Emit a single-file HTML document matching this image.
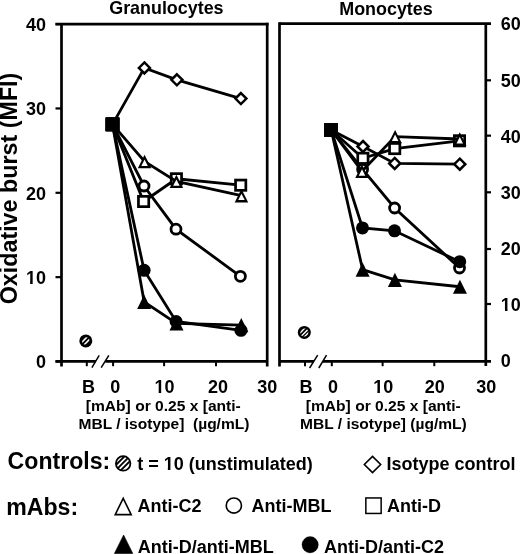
<!DOCTYPE html>
<html><head><meta charset="utf-8"><style>
html,body{margin:0;padding:0;background:#fff;}
svg{display:block;}
</style></head><body>
<svg width="520" height="554" viewBox="0 0 520 554">
<defs><clipPath id="n1c0"><path clip-rule="evenodd" d="M-10,-10H530V564H-10Z M26.30,282.00H30.14V284.60H26.30Z M32.67,282.00H36.28V284.60H32.67Z"/></clipPath><clipPath id="n1c1"><path clip-rule="evenodd" d="M-10,-10H530V564H-10Z M501.13,309.00H504.97V311.90H501.13Z M507.50,309.00H511.11V311.90H507.50Z"/></clipPath><clipPath id="n1c2"><path clip-rule="evenodd" d="M-10,-10H530V564H-10Z M154.82,391.00H158.66V393.30H154.82Z M161.19,391.00H164.79V393.30H161.19Z"/></clipPath><clipPath id="n1c3"><path clip-rule="evenodd" d="M-10,-10H530V564H-10Z M373.52,391.00H377.36V393.30H373.52Z M379.89,391.00H383.49V393.30H379.89Z"/></clipPath><clipPath id="n1c4"><path clip-rule="evenodd" d="M-10,-10H530V564H-10Z M164.03,468.00H167.87V470.90H164.03Z M170.40,468.00H174.01V470.90H170.40Z"/></clipPath></defs>
<rect width="520" height="554" fill="#fff"/>
<g stroke="#000" stroke-linecap="butt">
<line x1="61.5" y1="24.1" x2="61.5" y2="366.5" stroke-width="2.7"/>
<line x1="267.2" y1="22.75" x2="267.2" y2="366.5" stroke-width="2.7"/>
<line x1="55.5" y1="24.1" x2="268.55" y2="24.1" stroke-width="2.7"/>
<line x1="55.5" y1="361.3" x2="95.9" y2="361.3" stroke-width="2.7"/>
<line x1="105.3" y1="361.3" x2="267.2" y2="361.3" stroke-width="2.7"/>
<line x1="91.9" y1="367.7" x2="99.2" y2="355.4" stroke-width="1.5"/>
<line x1="101.2" y1="367.7" x2="108.8" y2="355.4" stroke-width="1.5"/>
<line x1="55.5" y1="361.5" x2="61.5" y2="361.5" stroke-width="2.2"/>
<line x1="55.5" y1="277.15" x2="61.5" y2="277.15" stroke-width="2.2"/>
<line x1="55.5" y1="192.8" x2="61.5" y2="192.8" stroke-width="2.2"/>
<line x1="55.5" y1="108.45" x2="61.5" y2="108.45" stroke-width="2.2"/>
<line x1="55.5" y1="24.1" x2="61.5" y2="24.1" stroke-width="2.2"/>
<line x1="86.8" y1="361.3" x2="86.8" y2="366.2" stroke-width="2.0"/>
<line x1="113.1" y1="361.3" x2="113.1" y2="366.2" stroke-width="2.0"/>
<line x1="164.1" y1="361.3" x2="164.1" y2="366.2" stroke-width="2.0"/>
<line x1="216" y1="361.3" x2="216" y2="366.2" stroke-width="2.0"/>
<line x1="279.5" y1="22.25" x2="279.5" y2="366.5" stroke-width="2.7"/>
<line x1="485.8" y1="23.6" x2="485.8" y2="366" stroke-width="2.7"/>
<line x1="279.5" y1="23.6" x2="491" y2="23.6" stroke-width="2.7"/>
<line x1="279.5" y1="361.3" x2="314" y2="361.3" stroke-width="2.7"/>
<line x1="323" y1="361.3" x2="491" y2="361.3" stroke-width="2.7"/>
<line x1="309.6" y1="368" x2="317.7" y2="355.2" stroke-width="1.5"/>
<line x1="318.8" y1="368" x2="326.5" y2="355.2" stroke-width="1.5"/>
<line x1="485.8" y1="304" x2="491" y2="304" stroke-width="2.2"/>
<line x1="485.8" y1="249" x2="491" y2="249" stroke-width="2.2"/>
<line x1="485.8" y1="192.3" x2="491" y2="192.3" stroke-width="2.2"/>
<line x1="485.8" y1="135.65" x2="491" y2="135.65" stroke-width="2.2"/>
<line x1="485.8" y1="80.3" x2="491" y2="80.3" stroke-width="2.2"/>
<line x1="305" y1="361.3" x2="305" y2="366.2" stroke-width="2.0"/>
<line x1="331.8" y1="361.3" x2="331.8" y2="366.2" stroke-width="2.0"/>
<line x1="382.6" y1="361.3" x2="382.6" y2="366.2" stroke-width="2.0"/>
<line x1="434.3" y1="361.3" x2="434.3" y2="366.2" stroke-width="2.0"/>
</g>
<g stroke="#000" stroke-linejoin="miter">
<polyline fill="none" stroke-width="2.8" points="112.5,124.4 144.4,67.9 176.9,79.8 240.9,98.6"/>
<rect stroke="none" fill="#000" x="105.75" y="117.65" width="13.5" height="13.5"/>
<polygon points="144.4,62.4 149.9,67.9 144.4,73.4 138.9,67.9" fill="#fff" stroke-width="2.5"/>
<polygon points="176.9,74.3 182.4,79.8 176.9,85.3 171.4,79.8" fill="#fff" stroke-width="2.5"/>
<polygon points="240.9,93.1 246.4,98.6 240.9,104.1 235.4,98.6" fill="#fff" stroke-width="2.5"/>
<polyline fill="none" stroke-width="2.8" points="112.5,124.4 144,186 176,229.2 240.4,276.3"/>
<rect stroke="none" fill="#000" x="105.75" y="117.65" width="13.5" height="13.5"/>
<circle cx="144" cy="186" r="5" fill="#fff" stroke-width="2.8"/>
<circle cx="176" cy="229.2" r="5" fill="#fff" stroke-width="2.8"/>
<circle cx="240.4" cy="276.3" r="5" fill="#fff" stroke-width="2.8"/>
<polyline fill="none" stroke-width="2.8" points="112.5,124.4 143.6,201.5 176.4,178.8 240.7,185.2"/>
<rect stroke="none" fill="#000" x="105.75" y="117.65" width="13.5" height="13.5"/>
<rect x="138.45" y="196.35" width="10.3" height="10.3" fill="#fff" stroke-width="2.7"/>
<rect x="171.25" y="173.65" width="10.3" height="10.3" fill="#fff" stroke-width="2.7"/>
<rect x="235.55" y="180.05" width="10.3" height="10.3" fill="#fff" stroke-width="2.7"/>
<polyline fill="none" stroke-width="2.8" points="112.5,124.4 144.55,161.5 176.4,181.4 241.45,195.7"/>
<rect stroke="none" fill="#000" x="105.75" y="117.65" width="13.5" height="13.5"/>
<polygon stroke="none" fill="#000" points="144.55,154.8 151.3,168.2 137.8,168.2"/>
<polygon stroke="none" fill="#fff" points="144.55,159.5 147.8,165.9 141.3,165.9"/>
<polygon stroke="none" fill="#000" points="176.4,174.7 183.15,188.1 169.65,188.1"/>
<polygon stroke="none" fill="#fff" points="176.4,179.4 179.65,185.8 173.15,185.8"/>
<polygon stroke="none" fill="#000" points="241.45,189 248.2,202.4 234.7,202.4"/>
<polygon stroke="none" fill="#fff" points="241.45,193.7 244.7,200.1 238.2,200.1"/>
<polyline fill="none" stroke-width="2.8" points="112.5,124.4 144.15,301.8 176.5,323.4 241.3,325.2"/>
<rect stroke="none" fill="#000" x="105.75" y="117.65" width="13.5" height="13.5"/>
<polygon stroke="none" fill="#000" points="144.15,294.7 151.15,308.9 137.15,308.9"/>
<polygon stroke="none" fill="#000" points="176.5,316.3 183.5,330.5 169.5,330.5"/>
<polygon stroke="none" fill="#000" points="241.3,318.1 248.3,332.3 234.3,332.3"/>
<polyline fill="none" stroke-width="2.8" points="112.5,124.4 144.1,270.3 176.1,321.5 241,330.3"/>
<rect stroke="none" fill="#000" x="105.75" y="117.65" width="13.5" height="13.5"/>
<circle stroke="none" fill="#000" cx="144.1" cy="270.3" r="6.5"/>
<circle stroke="none" fill="#000" cx="176.1" cy="321.5" r="6.5"/>
<circle stroke="none" fill="#000" cx="241" cy="330.3" r="6.5"/>
<rect stroke="none" fill="#000" x="105.75" y="117.65" width="13.5" height="13.5"/>
</g>
<g><circle cx="85.8" cy="340.9" r="6.5" fill="#000" stroke="none"/>
<clipPath id="h1"><circle cx="85.8" cy="340.9" r="3.7"/></clipPath>
<g clip-path="url(#h1)" stroke="#fff" stroke-width="1.6">
<line x1="76.46" y1="347.56" x2="92.46" y2="331.56"/>
<line x1="78.93" y1="350.03" x2="94.93" y2="334.03"/>
</g></g>
<g stroke="#000" stroke-linejoin="miter">
<polyline fill="none" stroke-width="2.8" points="331.25,130 363,146.5 394.7,163.4 459.8,164.2"/>
<rect stroke="none" fill="#000" x="324.5" y="123.25" width="13.5" height="13.5"/>
<polygon points="363,141 368.5,146.5 363,152 357.5,146.5" fill="#fff" stroke-width="2.5"/>
<polygon points="394.7,157.9 400.2,163.4 394.7,168.9 389.2,163.4" fill="#fff" stroke-width="2.5"/>
<polygon points="459.8,158.7 465.3,164.2 459.8,169.7 454.3,164.2" fill="#fff" stroke-width="2.5"/>
<polyline fill="none" stroke-width="2.8" points="331.25,130 362.6,169.3 394.6,208 459.5,268"/>
<rect stroke="none" fill="#000" x="324.5" y="123.25" width="13.5" height="13.5"/>
<circle cx="362.6" cy="169.3" r="5" fill="#fff" stroke-width="2.8"/>
<circle cx="394.6" cy="208" r="5" fill="#fff" stroke-width="2.8"/>
<circle cx="459.5" cy="268" r="5" fill="#fff" stroke-width="2.8"/>
<polyline fill="none" stroke-width="2.8" points="331.25,130 362.9,158.3 394.7,148.6 459.5,140.8"/>
<rect stroke="none" fill="#000" x="324.5" y="123.25" width="13.5" height="13.5"/>
<rect x="357.75" y="153.15" width="10.3" height="10.3" fill="#fff" stroke-width="2.7"/>
<rect x="389.55" y="143.45" width="10.3" height="10.3" fill="#fff" stroke-width="2.7"/>
<rect x="454.35" y="135.65" width="10.3" height="10.3" fill="#fff" stroke-width="2.7"/>
<polyline fill="none" stroke-width="2.8" points="331.25,130 362,171.3 395.1,136.6 459.75,139"/>
<rect stroke="none" fill="#000" x="324.5" y="123.25" width="13.5" height="13.5"/>
<polygon stroke="none" fill="#000" points="362,164.6 368.75,178 355.25,178"/>
<polygon stroke="none" fill="#fff" points="362,169.3 365.25,175.7 358.75,175.7"/>
<polygon stroke="none" fill="#000" points="395.1,129.9 401.85,143.3 388.35,143.3"/>
<polygon stroke="none" fill="#fff" points="395.1,134.6 398.35,141 391.85,141"/>
<polygon stroke="none" fill="#000" points="459.75,132.3 466.5,145.7 453,145.7"/>
<polygon stroke="none" fill="#fff" points="459.75,137 463,143.4 456.5,143.4"/>
<polyline fill="none" stroke-width="2.8" points="331.25,130 362.6,269.65 394.9,279.9 459.95,286.75"/>
<rect stroke="none" fill="#000" x="324.5" y="123.25" width="13.5" height="13.5"/>
<polygon stroke="none" fill="#000" points="362.6,262.55 369.6,276.75 355.6,276.75"/>
<polygon stroke="none" fill="#000" points="394.9,272.8 401.9,287 387.9,287"/>
<polygon stroke="none" fill="#000" points="459.95,279.65 466.95,293.85 452.95,293.85"/>
<polyline fill="none" stroke-width="2.8" points="331.25,130 362.5,227.9 394.5,230.8 459.7,261.7"/>
<rect stroke="none" fill="#000" x="324.5" y="123.25" width="13.5" height="13.5"/>
<circle stroke="none" fill="#000" cx="362.5" cy="227.9" r="6.5"/>
<circle stroke="none" fill="#000" cx="394.5" cy="230.8" r="6.5"/>
<circle stroke="none" fill="#000" cx="459.7" cy="261.7" r="6.5"/>
<rect stroke="none" fill="#000" x="324.5" y="123.25" width="13.5" height="13.5"/>
</g>
<g><circle cx="304.3" cy="332.4" r="6.5" fill="#000" stroke="none"/>
<clipPath id="h2"><circle cx="304.3" cy="332.4" r="4"/></clipPath>
<g clip-path="url(#h2)" stroke="#fff" stroke-width="1.4">
<line x1="294.43" y1="338.53" x2="310.43" y2="322.53"/>
<line x1="296.65" y1="340.75" x2="312.65" y2="324.75"/>
<line x1="298.56" y1="342.66" x2="314.56" y2="326.66"/>
</g></g>

<g font-family="'Liberation Sans', Arial, sans-serif" font-weight="bold" fill="#000">
<text x="166.4" y="14" font-size="17.9" text-anchor="middle">Granulocytes</text>
<text x="386" y="14.6" font-size="17.9" text-anchor="middle">Monocytes</text>
<text transform="translate(17.3,188.5) rotate(-90)" font-size="23.3" text-anchor="middle">Oxidative burst (MFI)</text>
<g font-size="18" text-anchor="end">
<text x="46" y="30.9">40</text>
<text x="46" y="115.2">30</text>
<text x="46" y="199.6">20</text>
<text clip-path="url(#n1c0)" x="46" y="283.9">10</text>
<text x="46" y="368.2">0</text>
</g>
<g font-size="18" text-anchor="start">
<text x="500.8" y="30.1">60</text>
<text x="500.8" y="87">50</text>
<text x="500.8" y="143">40</text>
<text x="500.8" y="199.1">30</text>
<text x="500.8" y="255.1">20</text>
<text clip-path="url(#n1c1)" x="500.8" y="311.2">10</text>
<text x="500.8" y="367.2">0</text>
</g>
<g font-size="18" text-anchor="middle">
<text x="88.4" y="392.6">B</text>
<text x="115.3" y="392.6">0</text>
<text clip-path="url(#n1c2)" x="164.5" y="392.6">10</text>
<text x="218.1" y="392.6">20</text>
<text x="267.2" y="392.6">30</text>
<text x="306" y="392.6">B</text>
<text x="333" y="392.6">0</text>
<text clip-path="url(#n1c3)" x="383.2" y="392.6">10</text>
<text x="434.8" y="392.6">20</text>
<text x="486.2" y="392.6">30</text>
</g>
<g font-size="14.5" text-anchor="middle">
<text transform="translate(163.3,410.6) scale(1.076,1)">[mAb] or 0.25 x [anti-</text>
<text font-size="15.1" transform="translate(163.95,429.0) scale(1.03,1)" xml:space="preserve">MBL / isotype]  (µg/mL)</text>
<text transform="translate(383.3,410.6) scale(1.076,1)">[mAb] or 0.25 x [anti-</text>
<text font-size="15.1" transform="translate(383.4,429.0) scale(1.03,1)">MBL / isotype] (µg/mL)</text>
</g>
<text x="7.6" y="468.8" font-size="23.1">Controls:</text>
<text x="6.3" y="515" font-size="23.1">mAbs:</text>
<g font-size="18">
<text clip-path="url(#n1c4)" x="137.2" y="470.2">t = 10 (unstimulated)</text>
<text x="386.6" y="470.2">Isotype control</text>
<text x="137.6" y="511.5">Anti-C2</text>
<text x="251.6" y="511.5">Anti-MBL</text>
<text x="387" y="511.5">Anti-D</text>
<text x="137.8" y="552.6">Anti-D/anti-MBL</text>
<text x="324" y="552.6">Anti-D/anti-C2</text>
</g>
</g>


<g stroke="#000" fill="#fff" stroke-width="1.6">
<clipPath id="lh"><circle cx="123.15" cy="463.4" r="7.4"/></clipPath>
<circle cx="123.15" cy="463.4" r="7.25" stroke-width="1.8"/>
<g clip-path="url(#lh)" stroke-width="1.85">
<line x1="108.32" y1="472.57" x2="132.32" y2="448.57"/><line x1="110.87" y1="475.12" x2="134.87" y2="451.12"/><line x1="113.41" y1="477.66" x2="137.41" y2="453.66"/>
</g>
<polygon points="372.5,456.35 380.65,464.5 372.5,472.65 364.35,464.5" stroke-width="1.6"/>
<polygon points="123.2,498.4 131.2,514.6 115.2,514.6"/>
<circle cx="233.85" cy="505.55" r="7.6"/>
<rect x="365.85" y="497.95" width="15.3" height="15.5" stroke-width="1.5"/>
<polygon points="123.6,535 132.8,553.5 114.4,553.5" fill="#000" stroke-width="0.6"/>
<circle cx="310.15" cy="544.7" r="8.2" fill="#000" stroke-width="0.3"/>
</g>

</svg>
</body></html>
